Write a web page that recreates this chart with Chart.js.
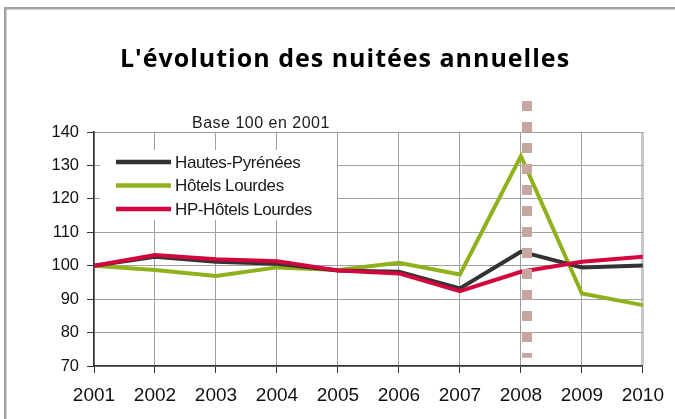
<!DOCTYPE html>
<html lang="fr">
<head>
<meta charset="utf-8">
<script src="https://cdn.jsdelivr.net/npm/chart.js@4"></script>
<style>
  html, body { margin: 0; padding: 0; background: #fff; }
</style>
</head>
<body>
<canvas id="graphique" width="675" height="419"></canvas>
<script>
// Années (axe des x)
const annees = [2001, 2002, 2003, 2004, 2005, 2006, 2007, 2008, 2009, 2010];
// Indices base 100 en 2001
const hautesPyrenees = [100, 102.7, 101.2, 100.6, 98.6, 98.2, 93.2, 104.2, 99.5, 100.1];
const hotelsLourdes = [100, 98.7, 96.9, 99.5, 98.7, 100.9, 97.4, 132.8, 91.7, 88.2];
const hpHotelsLourdes = [100, 103.2, 101.9, 101.3, 98.6, 97.7, 92.4, 98.2, 101.2, 102.7];
// Repère vertical pointillé (juste après 2008)
const repereX = 2008.1;
const repereY = [149.3, 72.5];

const titre = "L'évolution des nuitées annuelles";
const police = "'Liberation Sans', Arial, sans-serif";

// Cadre gris (haut et gauche), fond blanc et titre
const cadre = {
    id: 'cadre',
    beforeDraw(chart) {
        const ctx = chart.ctx;
        ctx.save();
        ctx.fillStyle = '#fff';
        ctx.fillRect(0, 0, chart.width, chart.height);
        ctx.fillStyle = '#a3a3a3';
        ctx.fillRect(4, 7, chart.width - 4, 2.5);
        ctx.fillRect(4, 7, 2.5, chart.height - 7);
        // Titre centré un peu à droite, comme dans l'original
        ctx.fillStyle = '#000';
        ctx.font = "bold 25px 'Open Sans', sans-serif";
        ctx.letterSpacing = '1px';
        ctx.textAlign = 'center';
        ctx.textBaseline = 'alphabetic';
        ctx.fillText(titre, 345, 67);
        ctx.restore();
    }
};

// Légende à l'intérieur de la zone du graphique, avec fond blanc
const legendeInterne = {
    id: 'legendeInterne',
    afterDatasetsDraw(chart) {
        const ctx = chart.ctx;
        const area = chart.chartArea;
        const series = chart.data.datasets.filter(d => d.label);
        ctx.save();
        ctx.fillStyle = '#fff';
        ctx.fillRect(area.left + 6, area.top + 18, 237, 70);
        ctx.font = '17px ' + police;
        ctx.letterSpacing = '-0.4px';
        ctx.textBaseline = 'middle';
        series.forEach((ds, i) => {
            const y = area.top + 30 + i * 23.5;
            ctx.strokeStyle = ds.borderColor;
            ctx.lineWidth = 4.5;
            ctx.beginPath();
            ctx.moveTo(area.left + 22, y);
            ctx.lineTo(area.left + 77, y);
            ctx.stroke();
            ctx.fillStyle = '#1a1a1a';
            ctx.fillText(ds.label, area.left + 81, y + 1);
        });
        // Mention "Base 100 en 2001"
        ctx.font = '16px ' + police;
        ctx.letterSpacing = '0.5px';
        ctx.textBaseline = 'alphabetic';
        ctx.fillText('Base 100 en 2001', area.left + 98, area.top - 4);
        ctx.restore();
    }
};

const enPoints = valeurs => valeurs.map((v, i) => ({ x: annees[i], y: v }));

new Chart(document.getElementById('graphique'), {
    type: 'line',
    data: {
        datasets: [
            {
                label: '',
                data: repereY.map(y => ({ x: repereX, y: y })),
                borderColor: '#c7a6a0',
                borderWidth: 10,
                borderDash: [10, 11],
                pointRadius: 0,
                clip: false,
                order: 0
            },
            {
                label: 'Hautes-Pyrénées',
                data: enPoints(hautesPyrenees),
                borderColor: '#333333',
                borderWidth: 4,
                pointRadius: 0,
                order: 2
            },
            {
                label: 'Hôtels Lourdes',
                data: enPoints(hotelsLourdes),
                borderColor: '#8fb11c',
                borderWidth: 4,
                pointRadius: 0,
                order: 3
            },
            {
                label: 'HP-Hôtels Lourdes',
                data: enPoints(hpHotelsLourdes),
                borderColor: '#d2063c',
                borderWidth: 4,
                pointRadius: 0,
                order: 1
            }
        ]
    },
    options: {
        responsive: false,
        animation: false,
        devicePixelRatio: 1,
        layout: { padding: { left: 0, right: 31, top: 132, bottom: 0 } },
        plugins: {
            legend: { display: false },
            tooltip: { enabled: false },
            title: { display: false }
        },
        scales: {
            x: {
                type: 'linear',
                min: 2001,
                max: 2010,
                afterFit: s => { s.height = 53; },
                ticks: {
                    stepSize: 1,
                    callback: v => String(v),
                    color: '#111',
                    font: { family: police, size: 19 },
                    padding: 11,
                    maxRotation: 0
                },
                grid: {
                    color: c => (c.tick && c.tick.value === 2010 ? '#c8c8c8' : '#a0a0a0'),
                    lineWidth: c => (c.tick && c.tick.value === 2010 ? 3 : 1),
                    tickColor: '#333',
                    tickWidth: 1,
                    tickLength: 7
                },
                border: { color: '#333', width: 1.5 }
            },
            y: {
                min: 70,
                max: 140,
                afterFit: s => { s.width = 94; },
                ticks: {
                    stepSize: 10,
                    color: '#111',
                    font: { family: police, size: 16.5 },
                    padding: 8
                },
                grid: {
                    color: '#a0a0a0',
                    tickColor: '#333',
                    tickLength: 7
                },
                border: { color: '#333', width: 1.5 }
            }
        }
    },
    plugins: [cadre, legendeInterne]
});
</script>
</body>
</html>
